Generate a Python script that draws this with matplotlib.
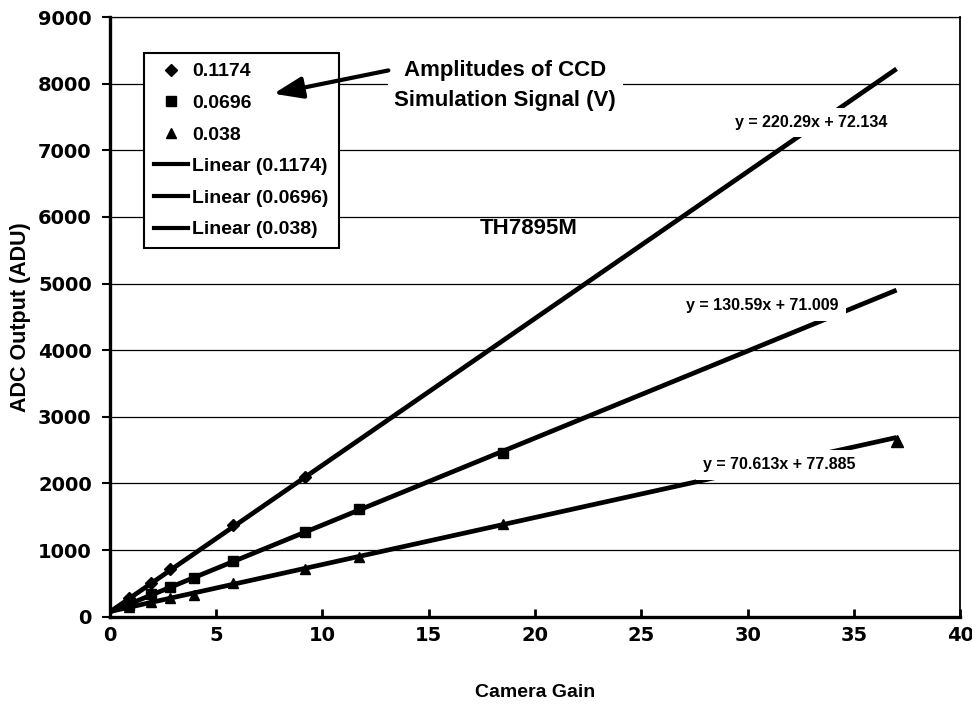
import matplotlib
matplotlib.use("Agg")
import matplotlib.pyplot as plt
from matplotlib.lines import Line2D
import numpy as np

plt.rcParams['font.family'] = ['Liberation Sans', 'DejaVu Sans']
plt.rcParams['font.weight'] = 'bold'

# ---- data ----
series_labels = ["0.1174", "0.0696", "0.038"]
gain_a = [0.91, 1.93, 2.84, 5.77, 9.2]
adc_a = [275, 510, 720, 1380, 2090]
gain_b = [0.91, 1.93, 2.84, 3.94, 5.77, 9.2, 11.7, 18.5]
adc_b = [170, 340, 450, 580, 840, 1275, 1610, 2465]
gain_c = [0.91, 1.93, 2.84, 3.94, 5.77, 9.2, 11.7, 18.5, 37.0]
adc_c = [145, 225, 276, 325, 500, 710, 900, 1385, 2640]
slopes = [220.29, 130.59, 70.613]
intercepts = [72.134, 71.009, 77.885]
fit_range = [0.0, 37.0]
eq_texts = ["y = 220.29x + 72.134", "y = 130.59x + 71.009", "y = 70.613x + 77.885"]
eq_pos = [(33.0, 7420), (30.7, 4665), (31.5, 2280)]
x_ticks = [0, 5, 10, 15, 20, 25, 30, 35, 40]
y_ticks = [0, 1000, 2000, 3000, 4000, 5000, 6000, 7000, 8000, 9000]

fig = plt.figure(figsize=(9.72, 7.13), dpi=100)
ax = fig.add_axes([0.113, 0.135, 0.875, 0.841])

ax.set_xlim(0, 40)
ax.set_ylim(0, 9000)

# grid
for yv in y_ticks[1:]:
    ax.axhline(yv, color='black', lw=0.9, zorder=1)

markers = ['D', 's', '^']
msizes = [6.5, 7, 7.5]
xs = [gain_a, gain_b, gain_c]
ys = [adc_a, adc_b, adc_c]
handles = []
for i in range(3):
    ax.plot(xs[i], ys[i], linestyle='none', marker=markers[i], ms=msizes[i],
            color='black', zorder=3)
    fx = np.array(fit_range)
    ax.plot(fx, slopes[i] * fx + intercepts[i], color='black', lw=3.4,
            solid_capstyle='butt', zorder=2)
    handles.append(Line2D([], [], linestyle='none', marker=markers[i],
                          ms=msizes[i] - 0.5, color='black',
                          label=series_labels[i]))
for i in range(3):
    handles.append(Line2D([], [], color='black', lw=3,
                          label="Linear (%s)" % series_labels[i]))

# triangle at line end stays visible above label boxes
ax.plot(gain_c[-1:], adc_c[-1:], linestyle='none', marker='^', ms=8,
        color='black', zorder=6)

for t, (px, py) in zip(eq_texts, eq_pos):
    ax.text(px, py, t, ha='center', va='center', fontsize=11.5,
            fontweight='bold', zorder=5,
            bbox=dict(boxstyle='square,pad=0.45', fc='white', ec='none'))

leg = ax.legend(handles=handles, loc='upper left',
                bbox_to_anchor=(0.04, 0.94), fontsize=14, frameon=True,
                fancybox=False, edgecolor='black', framealpha=1,
                handlelength=1.75, handletextpad=0.25, labelspacing=0.72,
                borderpad=0.5, borderaxespad=0)
leg.get_frame().set_linewidth(1.5)
leg.set_zorder(5)
for txt in leg.get_texts():
    txt.set_fontweight('bold')

ax.text(0.465, 0.886, "Amplitudes of CCD\nSimulation Signal (V)",
        transform=ax.transAxes, ha='center', va='center', fontsize=16,
        fontweight='bold', linespacing=1.55, zorder=5,
        bbox=dict(boxstyle='square,pad=0.3', fc='white', ec='none'))
ax.annotate('', xy=(7.7, 7850), xytext=(13.1, 8200),
            arrowprops=dict(arrowstyle='-|>,head_length=0.8,head_width=0.3',
                            lw=3, color='black',
                            mutation_scale=22, shrinkA=0, shrinkB=0),
            zorder=8)

ax.text(0.492, 0.648, "TH7895M", transform=ax.transAxes, ha='center',
        va='center', fontsize=16, fontweight='bold', zorder=5)

ax.set_xticks(x_ticks)
ax.set_yticks(y_ticks)
ax.set_xticklabels([str(v) for v in x_ticks], fontsize=14, fontweight='bold',
                   family='DejaVu Sans')
ax.set_yticklabels([str(v) for v in y_ticks], fontsize=14, fontweight='bold',
                   family='DejaVu Sans')
ax.tick_params(axis='x', direction='in', length=6, width=2, pad=7)
ax.tick_params(axis='y', direction='out', length=6, width=1.5, pad=7)

ax.set_xlabel("Camera Gain", fontsize=14, fontweight='bold', labelpad=28)
ax.set_ylabel("ADC Output (ADU)", fontsize=15.5, fontweight='bold', labelpad=5)

ax.spines['left'].set_linewidth(2.4)
ax.spines['bottom'].set_linewidth(2.4)
ax.spines['right'].set_linewidth(1.3)
ax.spines['top'].set_linewidth(0.9)

fig.savefig("out.png", dpi=100, facecolor='white')
